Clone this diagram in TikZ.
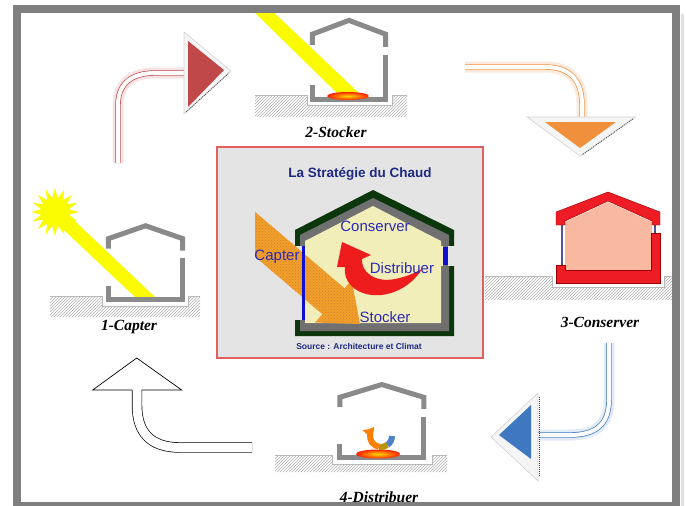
\documentclass[tikz,border=0pt]{standalone}
\usepackage{fontspec}
\setmainfont{Liberation Serif}
\newfontfamily\arialfont{Liberation Sans}
\usetikzlibrary{patterns,shapes.geometric,arrows.meta}

\definecolor{framegray}{HTML}{7F7F7F}
\definecolor{wallgray}{HTML}{8A8A8A}
\definecolor{hatchgray}{HTML}{B0B0B0}
\definecolor{beamyellow}{HTML}{FAFA00}
\definecolor{boxbg}{HTML}{E4E4E4}
\definecolor{boxred}{HTML}{E06060}
\definecolor{navy}{HTML}{1E2A82}
\definecolor{labelblue}{HTML}{2A2AB8}
\definecolor{wallgreen}{HTML}{0C360C}
\definecolor{innergray}{HTML}{707070}
\definecolor{roomyellow}{HTML}{F2EEBA}
\definecolor{capterorange}{HTML}{F2A028}
\definecolor{dotorange}{HTML}{C8600C}
\definecolor{swirlred}{HTML}{EE1C1C}
\definecolor{consred}{HTML}{EE1C24}
\definecolor{salmon}{HTML}{F8B9A0}
\definecolor{winblue}{HTML}{1010D0}
\definecolor{arrowA}{HTML}{C04848}
\definecolor{arrowB}{HTML}{F0903C}
\definecolor{arrowC}{HTML}{3F78C0}

% hatched ground with a notch for the foundation
\newcommand\groundcut[7]{%
  \fill[pattern=north east lines, pattern color=hatchgray]
    (#1,#3) -- (#4,#3) -- (#4,#6) -- (#5,#6) -- (#5,#3) -- (#2,#3) -- (#2,#7) -- (#1,#7) -- cycle;
  \draw[gray!55, line width=0.8]
    (#1,#3) -- (#4,#3) -- (#4,#6) -- (#5,#6) -- (#5,#3) -- (#2,#3);
}

\tikzset{
  housewall/.style={draw=wallgray, line width=5, line join=miter},
  pics/grayhouse/.style={code={
    \draw[housewall] (2.5,-54) -- (2.5,-64) -- (40,-77) -- (77.5,-64) -- (77.5,-52);
    \draw[housewall] (2.5,-16) -- (2.5,-2.5) -- (77.5,-2.5) -- (77.5,-44);
  }},
  steplabel/.style={font=\bfseries\itshape\fontsize{15.5}{16}\selectfont, anchor=base, inner sep=0},
  boxlabel/.style={font=\arialfont\fontsize{15}{16}\selectfont, text=labelblue, anchor=base, inner sep=0},
  shaftband/.style={line width=11, draw=#1},
  shaftline/.style={draw=#1, line width=0.7, double=white, double distance=4},
  bevel/.style={fill=gray!8, draw=gray!35, line width=0.6},
  bevelshadow/.style={draw=gray!55!black, line width=0.8, dash pattern=on 1pt off 1pt},
}

\begin{document}
\begin{tikzpicture}[x=1pt, y=-1pt]
\useasboundingbox (0,0) rectangle (686,506);
\fill[white] (0,0) rectangle (686,506);

% ---- sun beams ----
\fill[beamyellow] (50.2,217.1) -- (59.8,206.9) -- (155,297) -- (135,297) -- cycle;
\fill[beamyellow] (249,7) -- (268,7) -- (361,95) -- (339,95) -- cycle;
\node[star, star points=16, star point ratio=1.7, fill=beamyellow, minimum size=48pt, inner sep=0] (sun) at (55,212) {};

% ---- ground ----
\groundcut{50}{200}{296}{102}{188}{306}{317}
\groundcut{255}{407}{95}{307}{392}{105}{117}
\groundcut{485}{673}{276}{552}{664}{287}{300}
\groundcut{275}{447}{455}{332}{432}{464}{472}

% ---- small gray houses ----
\pic[xscale=0.99, yscale=0.99] (houseA) at (106,302) {grayhouse};
\pic[xscale=0.975, yscale=1.06] (houseB) at (310,102) {grayhouse};
\pic[xscale=1.12, yscale=0.98] (houseD) at (337,460) {grayhouse};

% stored heat
\shade[inner color=yellow!70!orange, outer color=red!75!orange] (348,96) ellipse [x radius=21, y radius=4];
\shade[inner color=yellow!70!orange, outer color=red!75!orange] (378,454) ellipse [x radius=22, y radius=4.5];

% distribution swirl
\draw[line width=6, draw=teal!60!blue!70] (381,436) ++(0:11) arc[start angle=0, end angle=55, radius=11];
\draw[line width=6, draw=olive!60!orange] (381,436) ++(55:11) arc[start angle=55, end angle=100, radius=11];
\draw[line width=6, draw=orange, -{Triangle[width=13pt,length=8pt]}] (381,436) ++(100:11) arc[start angle=100, end angle=222, radius=11];

% ---- insulated red house ----
\fill[salmon] (565,270) -- (565,222) -- (608,202) -- (652,222) -- (652,270) -- cycle;
\filldraw[fill=consred, draw=red!60!black, line width=0.4]
  (556,225) -- (556,212) -- (608,192) -- (660,212) -- (660,225) -- (652,225) -- (652,221)
  -- (608,201) -- (565,221) -- (565,225) -- cycle;
\filldraw[fill=consred, draw=red!60!black, line width=0.4]
  (556,265) -- (565,265) -- (565,270) -- (651,270) -- (651,233) -- (660,233) -- (660,283) -- (556,283) -- cycle;
\draw[draw=blue!35!gray, line width=1.3] (562,225) -- (562,265);
\draw[draw=blue!35!gray, line width=1.3] (655,225) -- (655,233);
\fill[black!70] (562,226) circle (1.2) (562,264) circle (1.2) (655,226) circle (1.2) (655,232) circle (1.2);

% ---- cycle arrows ----
% 1 -> 2
\draw[shaftband=arrowA!15] (118,163) -- (118,105) .. controls (118,85) and (130,73) .. (155,73) -- (190,73);
\draw[shaftline=arrowA] (118,163) -- (118,105) .. controls (118,85) and (130,73) .. (155,73) -- (190,73);
\filldraw[bevel] (184,32) -- (184,114) -- (231,71) -- cycle;
\draw[bevelshadow] (186,112) -- (229,73);
\fill[arrowA] (188,41) -- (188,107) -- (224,70) -- cycle;
% 2 -> 3
\draw[shaftband=arrowB!18] (465,67) -- (545,67) .. controls (570,67) and (582,80) .. (582,105) -- (582,122);
\draw[shaftline=arrowB] (465,67) -- (545,67) .. controls (570,67) and (582,80) .. (582,105) -- (582,122);
\filldraw[bevel] (527,117) -- (635,117) -- (580,156) -- cycle;
\draw[bevelshadow] (633,119) -- (582,155);
\fill[arrowB] (545,122) -- (616,122) -- (580,148) -- cycle;
% 3 -> 4
\draw[shaftband=arrowC!15] (609,343) -- (609,400) .. controls (609,425) and (595,435) .. (570,435) -- (532,435);
\draw[shaftline=arrowC] (609,343) -- (609,400) .. controls (609,425) and (595,435) .. (570,435) -- (532,435);
\filldraw[bevel] (538,393) -- (538,481) -- (491,437) -- cycle;
\draw[bevelshadow] (539,397) -- (539,477);
\fill[arrowC] (531,405) -- (531,459) -- (499,435) -- cycle;
% 4 -> 1
\draw[draw=black, line width=0.7, double=white, double distance=9]
  (252,447.5) -- (180,447.5) .. controls (150,447.5) and (137,432) .. (137,405) -- (137,390);
\filldraw[fill=white, draw=black, line width=0.7]
  (132,390) -- (92.7,390) -- (136.7,358) -- (181.7,390) -- (141.5,390);

% ---- central panel ----
\draw[draw=boxred, line width=1.2, fill=boxbg] (217,147) rectangle (483,358);
\fill[wallgreen] (295,336) -- (295,230) -- (373,190) -- (454,230) -- (454,336) -- cycle;
\fill[innergray] (300,331) -- (300,235) -- (373,198) -- (449,235) -- (449,331) -- cycle;
\fill[roomyellow] (305,323) -- (305,241) -- (373,206) -- (441,241) -- (441,323) -- cycle;
% window openings
\fill[boxbg] (293,246) rectangle (302,320);
\fill[roomyellow] (302,246) rectangle (306,320);
\fill[roomyellow] (440,246) rectangle (443,266);
\fill[boxbg] (448,246) rectangle (456,266);
\fill[winblue] (443,247) rectangle (448,265);
% sunlight captured
\fill[capterorange, postaction={pattern=crosshatch dots, pattern color=dotorange!80}]
  (255,211.8) -- (344.5,288.3) -- (351.6,280) -- (360,324) -- (315.2,322.5) -- (322.4,314.2)
  -- (255,256.6) -- cycle;
\draw[winblue, line width=2.6] (303.5,246) -- (303.5,320);
% distributed heat
\fill[swirlred] (342,242) -- (371,255) -- (362,259) .. controls (361,272) and (375,283) .. (395,279)
  .. controls (405,277) and (413,274) .. (422,269) .. controls (411,287) and (390,297) .. (372,295)
  .. controls (354,293) and (343,281) .. (345,267) -- (337,267) -- cycle;

\node[font=\arialfont\bfseries\fontsize{13.5}{15}\selectfont, text=navy, anchor=base, inner sep=0] (title) at (360,177) {La Stratégie du Chaud};
\node[boxlabel] (lconserver) at (375,231.5) {Conserver};
\node[boxlabel] (lcapter) at (277,260) {Capter};
\node[boxlabel] (ldistribuer) at (402,273) {Distribuer};
\node[boxlabel] (lstocker) at (385,322.5) {Stocker};
\node[font=\arialfont\bfseries\fontsize{8.5}{9}\selectfont, text=navy, anchor=base, inner sep=0] (source) at (359,349) {Source : Architecture et Climat};

% ---- step captions ----
\node[steplabel] (capter) at (129,330) {1-Capter};
\node[steplabel] (stocker) at (336,137) {2-Stocker};
\node[steplabel] (conserver) at (600,327) {3-Conserver};
\node[steplabel] (distribuer) at (379,502) {4-Distribuer};

% ---- frame ----
\draw[gray!25, line width=3] (682,14) -- (682,506);
\draw[framegray, line width=8] (17,9) rectangle (676,506);
\end{tikzpicture}
\end{document}
